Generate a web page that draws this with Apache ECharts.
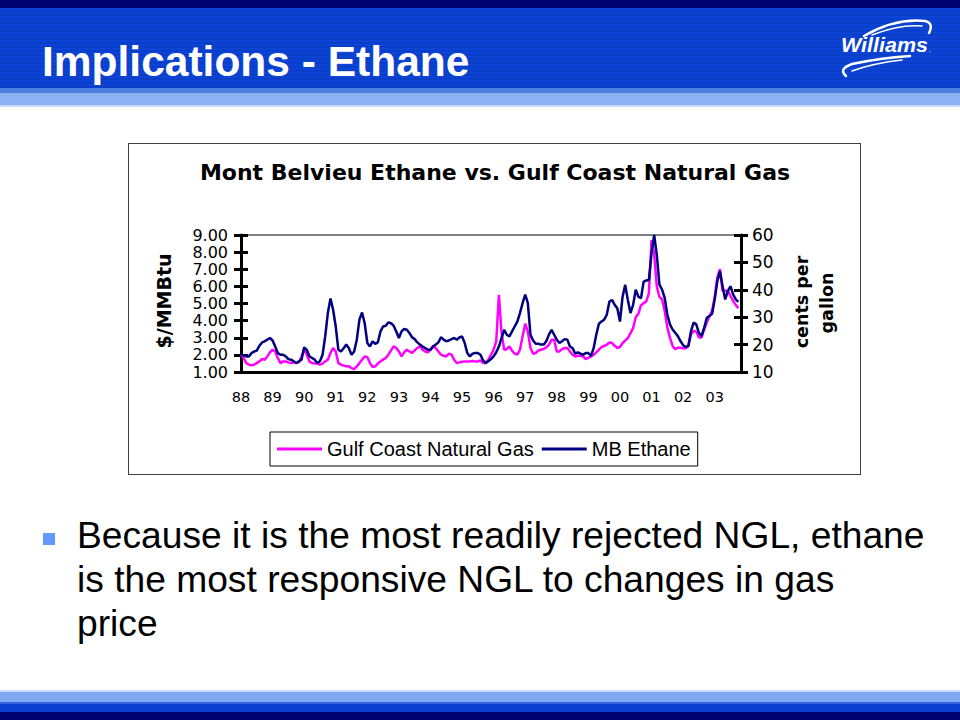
<!DOCTYPE html>
<html>
<head>
<meta charset="utf-8">
<script src="https://cdn.jsdelivr.net/npm/echarts@6/dist/echarts.min.js"></script>
<style>
  html, body { margin: 0; padding: 0; background: #fff; }
  #page { position: relative; width: 960px; height: 720px; overflow: hidden; }
  #deco { position: absolute; left: 0; top: 0; }
  #chart { position: absolute; left: 0; top: 0; width: 960px; height: 720px; }
</style>
</head>
<body>
<div id="page">
<svg id="deco" width="960" height="720" xmlns="http://www.w3.org/2000/svg">
  <defs>
    <pattern id="stripes" width="10" height="4" patternUnits="userSpaceOnUse">
      <rect x="0" y="0" width="10" height="4" fill="#0c44d6"/>
      <rect x="0" y="2" width="10" height="1.5" fill="#0a3cc6"/>
    </pattern>
  </defs>
  <!-- header -->
  <rect x="0" y="0" width="960" height="8" fill="#00006e"/>
  <rect x="0" y="8" width="960" height="80" fill="url(#stripes)"/>
  <rect x="0" y="88" width="960" height="5" fill="#4d7fe3"/>
  <rect x="0" y="93" width="960" height="12" fill="#8db2f4"/>
  <rect x="0" y="105" width="960" height="2" fill="#c8dafa"/>
  <text x="42" y="76" font-family="Liberation Sans, Arial, sans-serif" font-weight="bold" font-size="42.5" fill="#ffffff">Implications - Ethane</text>
  <!-- logo -->
  <g fill="none" stroke="#ffffff" stroke-linecap="round">
    <path d="M864 36 Q895 18 925 21 Q934 23 929 33" stroke-width="2.5"/>
    <path d="M872 35 Q900 24 922 26" stroke-width="1.5"/>
    <path d="M846 76 Q838 69 852 64 Q880 58 910 56" stroke-width="2.5"/>
    <path d="M852 71 Q874 63 902 60" stroke-width="1.5"/>
  </g>
  <text x="841" y="52" font-family="Liberation Sans, Arial, sans-serif" font-weight="bold" font-style="italic" font-size="21" fill="#ffffff" textLength="87" lengthAdjust="spacingAndGlyphs">Williams</text>
  <text x="929" y="52" font-family="Liberation Sans, Arial, sans-serif" font-size="7" fill="#ffffff">.</text>
  <!-- chart frame -->
  <rect x="128.5" y="143.5" width="732" height="331" fill="#ffffff" stroke="#404040" stroke-width="1"/>
  <!-- bullet -->
  <rect x="43" y="533" width="12" height="12" fill="#6699ff"/>
  <text font-family="Liberation Sans, Arial, sans-serif" font-size="37.2" fill="#000000">
    <tspan x="77" y="548">Because it is the most readily rejected NGL, ethane</tspan>
    <tspan x="77" y="592">is the most responsive NGL to changes in gas</tspan>
    <tspan x="77" y="636">price</tspan>
  </text>
  <!-- footer -->
  <rect x="0" y="690" width="960" height="2" fill="#c9dbfa"/>
  <rect x="0" y="692" width="960" height="10" fill="#7fa8f2"/>
  <rect x="0" y="702" width="960" height="2" fill="#3366dd"/>
  <rect x="0" y="704" width="960" height="8" fill="#0a3fd0"/>
  <rect x="0" y="712" width="960" height="8" fill="#000070"/>
</svg>
<div id="chart"></div>
</div>
<script>
// ---- data (monthly, Jan 1988 onward) ----
const startYear = 1988;
const monthCount = 191; // Jan 1988 .. Nov 2003 (axis extent)
const yearLabels = ['88','89','90','91','92','93','94','95','96','97','98','99','00','01','02','03'];
const seriesNames = ['Gulf Coast Natural Gas', 'MB Ethane'];

// Gulf Coast Natural Gas, $/MMBtu
const gasPrice = [
  2.01,1.82,1.52,1.43,1.39,1.43,1.52,1.62,1.76,1.72,1.91,2.15,
  2.30,2.20,1.82,1.52,1.62,1.62,1.56,1.52,1.56,1.52,1.56,1.91,
  2.30,2.01,1.62,1.52,1.49,1.49,1.43,1.49,1.62,1.72,2.11,2.40,
  2.20,1.52,1.43,1.37,1.33,1.33,1.23,1.17,1.33,1.52,1.72,1.91,
  1.87,1.52,1.29,1.33,1.49,1.62,1.72,1.82,2.01,2.26,2.50,2.40,
  2.20,1.91,2.15,2.30,2.20,2.11,2.26,2.40,2.50,2.30,2.20,2.15,
  2.30,2.50,2.40,2.20,2.01,1.95,1.91,2.07,2.01,1.72,1.52,1.56,
  1.60,1.62,1.62,1.62,1.64,1.62,1.62,1.68,1.52,1.52,1.72,2.00,
  2.30,2.80,5.50,3.30,2.30,2.34,2.50,2.24,2.07,2.01,2.30,3.08,
  3.82,3.37,2.40,2.07,2.11,2.26,2.30,2.34,2.44,2.59,2.88,2.88,
  2.20,2.20,2.34,2.40,2.40,2.20,2.01,1.91,1.95,1.95,1.91,1.76,
  1.82,1.91,2.01,2.15,2.30,2.46,2.53,2.59,2.73,2.69,2.53,2.40,
  2.46,2.69,2.84,2.98,3.27,3.56,4.20,4.40,4.90,5.02,5.12,5.60,
  8.70,7.90,6.00,5.39,5.25,4.57,3.59,3.01,2.52,2.33,2.42,2.42,
  2.38,2.38,2.52,3.20,3.40,3.36,3.01,3.01,3.50,3.89,4.27,4.57,
  5.35,6.52,7.00,5.74,5.74,5.74,5.44,5.15,4.92,4.72
];

// Mont Belvieu Ethane, cents per gallon
const ethanePrice = [
  16.3,16.0,15.7,15.7,16.9,17.5,17.8,19.6,20.8,21.2,21.8,22.4,
  21.5,19.3,16.9,16.3,16.3,15.7,14.7,14.5,13.9,13.3,13.9,14.5,
  19.0,18.1,15.7,15.1,14.5,13.3,13.9,16.3,23.0,31.5,36.8,32.7,
  26.6,18.1,17.5,18.7,20.0,18.7,16.3,17.5,21.8,29.1,31.7,27.8,
  20.6,19.3,21.2,20.3,20.8,24.8,26.6,26.9,28.1,27.8,26.9,24.8,
  22.4,24.8,25.7,25.4,24.2,22.7,22.0,20.8,20.0,19.3,18.7,18.1,
  18.1,19.3,20.0,20.8,22.7,21.8,21.2,21.5,22.0,22.4,21.8,22.6,
  23.0,20.6,16.9,15.7,16.7,16.9,16.9,16.3,14.2,13.3,13.9,14.7,
  15.7,17.2,19.3,22.4,25.4,23.6,23.0,24.8,26.6,28.4,31.5,35.1,
  38.2,35.1,23.6,21.5,20.3,20.3,20.0,20.0,21.2,23.6,25.4,23.6,
  21.8,20.6,21.2,22.0,21.8,19.3,18.7,16.7,17.2,16.7,16.3,16.9,
  16.9,15.9,18.7,23.6,27.6,28.4,29.1,30.9,35.7,36.3,34.5,33.3,
  28.4,37.5,41.8,36.3,31.5,34.5,40.0,37.5,36.9,43.0,43.4,43.6,
  53.3,60.0,52.8,41.9,40.1,37.1,31.0,27.4,25.5,24.3,23.1,21.3,
  19.8,19.1,19.5,24.9,28.0,27.4,24.3,23.1,26.1,29.8,30.4,31.2,
  36.5,43.1,46.8,41.3,36.5,39.5,41.3,38.3,36.5,35.6
];

const months = [];
for (let i = 0; i < monthCount; i++) {
  const y = startYear + Math.floor(i / 12);
  const m = (i % 12) + 1;
  months.push(y + '-' + (m < 10 ? '0' + m : m));
}

const chart = echarts.init(document.getElementById('chart'), null, { renderer: 'svg', width: 960, height: 720 });

const tickFont = '"DejaVu Sans", "Liberation Sans", Arial, sans-serif';

chart.setOption({
  animation: false,
  backgroundColor: 'transparent',
  grid: {
    left: 241, right: 219, top: 235, bottom: 348,
    show: true, borderColor: '#808080', borderWidth: 2, backgroundColor: 'transparent'
  },
  graphic: [
    { type: 'text', x: 495, y: 172,
      style: { text: 'Mont Belvieu Ethane vs. Gulf Coast Natural Gas', fontFamily: tickFont, fontWeight: 'bold', fontSize: 22, fill: '#000', align: 'center', verticalAlign: 'middle' } },
    { type: 'text', x: 164, y: 301, rotation: Math.PI / 2,
      style: { text: '$/MMBtu', fontFamily: tickFont, fontWeight: 'bold', fontSize: 19, fill: '#000', align: 'center', verticalAlign: 'middle' } },
    { type: 'text', x: 802, y: 302, rotation: Math.PI / 2,
      style: { text: 'cents per', fontFamily: tickFont, fontWeight: 'bold', fontSize: 17.5, fill: '#000', align: 'center', verticalAlign: 'middle' } },
    { type: 'text', x: 827, y: 303, rotation: Math.PI / 2,
      style: { text: 'gallon', fontFamily: tickFont, fontWeight: 'bold', fontSize: 17.5, fill: '#000', align: 'center', verticalAlign: 'middle' } }
  ],
  legend: {
    left: 270, top: 432,
    orient: 'horizontal',
    icon: 'rect',
    itemWidth: 45, itemHeight: 3, itemGap: 8,
    padding: [7, 7, 7, 7],
    borderColor: '#000', borderWidth: 1, backgroundColor: '#fff',
    textStyle: { fontFamily: '"Liberation Sans", Arial, sans-serif', fontSize: 20, color: '#000' },
    data: seriesNames
  },
  xAxis: {
    type: 'category',
    data: months,
    boundaryGap: false,
    axisLine: { lineStyle: { color: '#000', width: 3 } },
    axisTick: { show: false },
    splitLine: { show: false },
    axisLabel: {
      interval: function (index) { return index % 12 === 0; },
      formatter: function (value, index) { return yearLabels[Math.floor(index / 12)]; },
      fontFamily: tickFont, fontSize: 14.5, color: '#000', margin: 17
    }
  },
  yAxis: [
    {
      type: 'value', position: 'left', min: 1, max: 9, interval: 1,
      axisLine: { show: true, lineStyle: { color: '#000', width: 3 } },
      axisTick: { show: true, length: 7, lineStyle: { color: '#000', width: 3 } },
      splitLine: { show: false },
      axisLabel: { formatter: function (v) { return v.toFixed(2); }, fontFamily: tickFont, fontSize: 16, lineHeight: 15, color: '#000', margin: 13 }
    },
    {
      type: 'value', position: 'right', min: 10, max: 60, interval: 10,
      axisLine: { show: true, lineStyle: { color: '#000', width: 3 } },
      axisTick: { show: true, length: 7, lineStyle: { color: '#000', width: 3 } },
      splitLine: { show: false },
      axisLabel: { fontFamily: tickFont, fontSize: 17, color: '#000', margin: 11 }
    },
    {
      type: 'value', position: 'left', min: 1, max: 9, interval: 1,
      axisLine: { show: false },
      axisTick: { show: true, inside: true, length: 7, lineStyle: { color: '#000', width: 3 } },
      splitLine: { show: false },
      axisLabel: { show: false }
    },
    {
      type: 'value', position: 'right', min: 10, max: 60, interval: 10,
      axisLine: { show: false },
      axisTick: { show: true, inside: true, length: 7, lineStyle: { color: '#000', width: 3 } },
      splitLine: { show: false },
      axisLabel: { show: false }
    }
  ],
  series: [
    {
      name: seriesNames[0], type: 'line', yAxisIndex: 0, data: gasPrice,
      showSymbol: false, symbol: 'none',
      color: '#ff00ff',
      lineStyle: { color: '#ff00ff', width: 2.5 },
      itemStyle: { color: '#ff00ff' }
    },
    {
      name: seriesNames[1], type: 'line', yAxisIndex: 1, data: ethanePrice,
      showSymbol: false, symbol: 'none',
      color: '#000080',
      lineStyle: { color: '#000080', width: 2.5 },
      itemStyle: { color: '#000080' }
    }
  ]
});
</script>
</body>
</html>
